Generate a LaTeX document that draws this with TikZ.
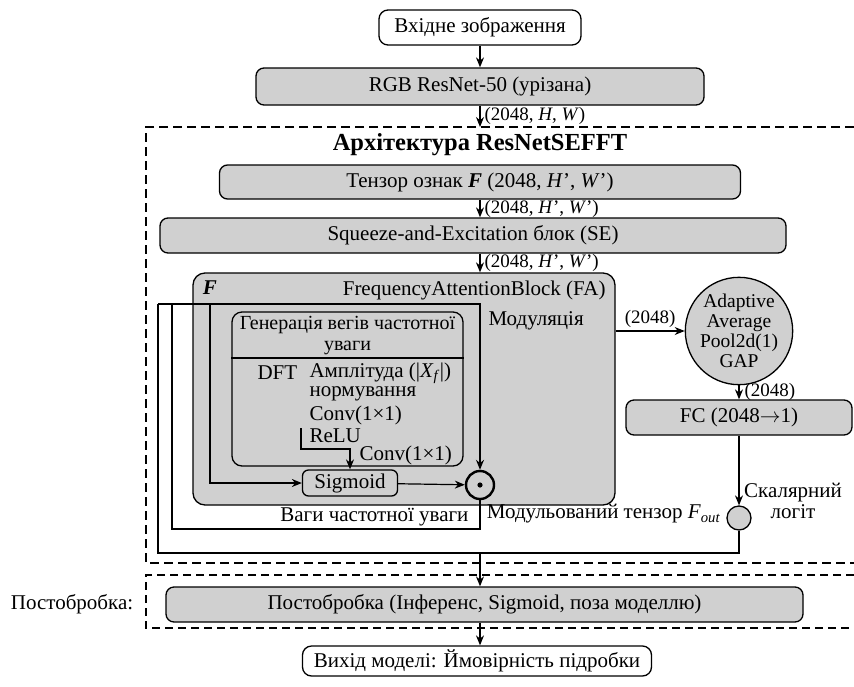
\documentclass[tikz,border=0pt]{standalone}
\usepackage{fontspec}
\setmainfont{Liberation Serif}
\usetikzlibrary{arrows.meta, positioning, calc}
\definecolor{boxgray}{RGB}{208,208,208}
\tikzstyle{arrow} = [line width=1.2pt,-{Stealth[length=10pt,width=8pt]}]
\tikzstyle{wire} = [line width=1.2pt]
\tikzstyle{block} = [rectangle, draw=black, fill=boxgray, line width=1.3pt, rounded corners=8pt, text centered]
\tikzstyle{term} = [rectangle, draw=black, fill=white, line width=1.3pt, rounded corners=9pt, text centered]
\tikzstyle{dim} = [inner sep=1pt, font=\fontsize{19}{20}\selectfont]

\begin{document}
\begin{tikzpicture}[x=1pt, y=-1pt, font=\fontsize{21}{21}\selectfont]
    \useasboundingbox (0,0) rectangle (854,686);
    % Input and backbone
    \node[term, minimum width=202pt, minimum height=35pt] (input) at (480,27.5) {Вхідне зображення};
    \node[block, minimum width=448pt, minimum height=37pt] (rgb) at (480,86.5) {RGB ResNet-50 (урізана)};
    \coordinate (entry) at (480,127);

    % ResNetSEFFT frame
    \draw[line width=2.6pt, dash pattern=on 9pt off 5pt] (854,127) -- (146,127) -- (146,563) -- (854,563);
    \node[font=\bfseries\fontsize{24.5}{26}\selectfont] (title) at (480,145) {Архітектура ResNetSEFFT};
    \node[block, minimum width=521pt, minimum height=34pt] (feat) at (480,182) {Тензор ознак \textbf{\textit{F}} (2048, \textit{H}', \textit{W}')};
    \node[block, minimum width=626pt, minimum height=35pt] (se) at (473,235.5) {Squeeze-and-Excitation блок (SE)};

    % Frequency attention block
    \node[block, rounded corners=12pt, minimum width=422pt, minimum height=232pt] (fa) at (404,389) {};
    \node[font=\bfseries\itshape\fontsize{21}{22}\selectfont] (flabel) at (210,288) {F};
    \node[anchor=east] (fatitle) at (609,290) {FrequencyAttentionBlock (FA)};
    \node[anchor=west] (modlbl) at (485,321) {Модуляція};
    \node[block, rounded corners=10pt, minimum width=231pt, minimum height=154pt] (gen) at (347.5,389) {};
    \coordinate (hdr) at (0,358);
    \draw[wire] (gen.west |- hdr) -- (gen.east |- hdr);
    \node[align=center, font=\fontsize{20}{21}\selectfont] (genhead) at (347.5,335.5) {Генерація вегів частотної\\уваги};
    \node[anchor=west] (dft) at (254,373) {DFT};
    \node[anchor=west] (amp) at (306,373) {Амплітуда (|\textit{X}\textsubscript{\textit{f}}|)};
    \node[anchor=west] (norm) at (306,394) {нормування};
    \node[anchor=west] (conva) at (306,415) {Conv(1×1)};
    \node[anchor=west] (relutxt) at (306,436) {ReLU};
    \node[anchor=west] (convb) at (356,455) {Conv(1×1)};
    \node[block, rounded corners=6pt, minimum width=95pt, minimum height=26pt, inner sep=2pt] (sig) at (350,483) {Sigmoid};
    \node[circle, draw, fill=boxgray, line width=2.4pt, minimum size=28pt, inner sep=0pt] (odot) at (480,485) {};
    \fill (odot) circle (2.6pt);
    \node[anchor=east] (wlbl) at (472,517) {Ваги частотної уваги};
    \node[anchor=east] (foutlbl) at (724,514) {Модульований тензор \textit{F}\textsubscript{\textit{out}}};

    % Classifier head
    \node[circle, draw, fill=boxgray, line width=1.3pt, minimum size=90pt, inner sep=0pt, align=center, font=\fontsize{19.5}{20}\selectfont] (gap) at (739,331) {Adaptive\\Average\\Pool2d(1)\\GAP};
    \node[block, minimum width=226pt, minimum height=35pt] (fc) at (739,417.5) {FC (2048$\rightarrow$1)};
    \node[circle, draw, fill=boxgray, line width=1.3pt, minimum size=24pt, inner sep=0pt] (logit) at (739,518) {};
    \node[align=center] (logitlbl) at (793,501) {Скалярний\\логіт};

    % Post-processing
    \draw[line width=1.3pt, dash pattern=on 8pt off 5pt] (854,575) -- (146,575) -- (146,628) -- (854,628);
    \node (postlbl) at (72,604) {Постобробка:};
    \node[block, minimum width=637pt, minimum height=35pt] (post) at (484.5,604.5) {Постобробка (Інференс, Sigmoid, поза моделлю)};
    \node[term, minimum width=349pt, minimum height=30pt] (output) at (477,661) {Вихід моделі: Ймовірність підробки};

    % Wires
    \coordinate (fsrc) at (158,304);
    \coordinate (fmid) at (172,304);
    \coordinate (fin) at (210,304);
    \coordinate (wbar) at (172,529);
    \coordinate (obar) at (158,553);
    \coordinate (merge) at (480,553);
    \coordinate (relu) at (301,428);

    % Arrows
    \draw[arrow] (input) -- (rgb);
    \draw[arrow] (rgb) -- (entry) node[dim, midway, right=3pt] (d1) {(2048, \textit{H}, \textit{W})};
    \draw[arrow] (feat) -- (feat |- se.north) node[dim, midway, right=3pt] (d2) {(2048, \textit{H}', \textit{W}')};
    \draw[arrow] (se.south -| entry) -- (fa.north -| entry) node[dim, midway, right=3pt] (d3) {(2048, \textit{H}', \textit{W}')};
    \draw[arrow] (fsrc) -| (odot);
    \draw[wire] (fmid) -- (wbar) -| (odot);
    \draw[wire] (fsrc) -- (obar) -| (logit);
    \draw[arrow] (fin) |- (sig);
    \draw[arrow] (relu) -- ++(0,21) -| (sig);
    \draw[arrow] (sig) -- (odot);
    \draw[arrow] (gap -| fa.east) -- (gap) node[dim, midway, above=2pt] (d4) {(2048)};
    \draw[arrow] (gap) -- (fc) node[dim, midway, right=4pt] (d5) {(2048)};
    \draw[arrow] (fc) -- (logit);
    \draw[arrow] (merge) -- (post.north -| merge);
    \draw[arrow] (post.south -| merge) -- (output.north -| merge);
\end{tikzpicture}
\end{document}
